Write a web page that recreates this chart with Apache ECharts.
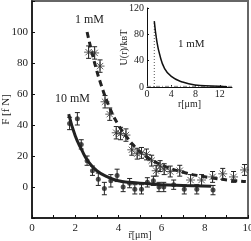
<!DOCTYPE html>
<html>
<head>
<meta charset="utf-8">
<script src="https://cdn.jsdelivr.net/npm/echarts@6/dist/echarts.min.js"></script>
<style>html,body{margin:0;padding:0;background:#fff}#c{width:251px;height:241px}</style>
</head>
<body>
<div id="c"></div>
<script>
// ---- data ----
// 10 mM measured points
const r10 = [1.74, 2.1, 2.28, 2.55, 2.8, 3.07, 3.35, 3.65, 3.94, 4.22, 4.52, 4.76, 5.07, 5.34, 5.62, 5.88, 6.1, 6.56, 7.05, 7.63, 8.38];
const f10 = [41, 44, 27.5, 17, 10.5, 5, -1, 4, 7.5, 0, 2.5, -1.5, -1.5, 3, 4, 0, 0, 1.5, -1.5, -1.5, -2];
const e10 = [4, 4, 3, 3, 3, 4, 4, 4, 4, 3, 3, 3, 3, 3, 3, 3, 3, 3, 3, 3, 3];
// 10 mM fitted curve
const fit10R = [1.7, 2.0, 2.3, 2.6, 3.0, 3.5, 4.0, 4.5, 5.0, 6.0, 7.0, 8.3];
const fit10F = [47, 33, 24, 16.5, 10.5, 6.5, 4, 3, 2.5, 1.5, 1, 0.5];
// 1 mM measured points
const r1 = [2.62, 2.9, 3.15, 3.38, 3.6, 3.9, 4.1, 4.35, 4.62, 4.87, 5.07, 5.3, 5.54, 5.75, 5.93, 6.12, 6.4, 6.84, 7.34, 7.85, 8.36, 8.83, 9.33, 9.84];
const f1 = [87, 86.5, 78, 55, 47, 35, 34.5, 33.5, 24, 21.5, 22, 21, 17, 10.5, 13.5, 11.5, 10, 10.5, 4.5, 4.5, 6.5, 8.5, 6.5, 11];
const e1 = [4, 4, 4, 4, 4, 4, 4, 4, 3.5, 3.5, 3.5, 3.5, 3.5, 3.5, 3.5, 3.5, 3.5, 3.5, 3.5, 3.5, 3.5, 3.5, 3.5, 3.5];
// 1 mM fitted curve (dashed)
const fit1R = [2.55, 2.9, 3.2, 3.6, 4.0, 4.4, 4.8, 5.3, 5.8, 6.3, 7.0, 7.7, 8.5, 9.2, 9.9];
const fit1F = [100, 80, 66, 51, 40, 32, 25.5, 19.5, 15.5, 12.5, 9.5, 7.3, 5.5, 4.3, 3.5];
// inset potential curve
const insetR = [1.2, 1.6, 2.1, 2.9, 4.0, 5.7, 7.9, 10.6, 13.2];
const insetU = [100, 71, 49, 28, 16, 8, 3, 1.5, 0.5];
const insetMarkR = [1.2, 1.2];
const insetMarkU = [0, 100];
const insetBaseR = [0, 14];
const insetBaseU = [1, 1];
// tick labels
const mainXTicks = [0, 2, 4, 6, 8, 10];
const mainYTicks = [0, 20, 40, 60, 80, 100];
const insetXTicks = [0, 4, 8, 12];
const insetYTicks = [0, 40, 80, 120];

const zip = (a, b) => a.map((v, i) => [v, b[i]]);
const zip3 = (a, b, c) => a.map((v, i) => [v, b[i], c[i]]);
const INK = '#222';
const FONT = 'Liberation Serif';

function errRender(params, api) {
  const x = api.value(0), y = api.value(1), e = api.value(2);
  const t = api.coord([x, y + e]), b = api.coord([x, y - e]);
  const cw = 2.5, st = {stroke: INK, lineWidth: 1};
  return {type: 'group', children: [
    {type: 'line', shape: {x1: t[0], y1: t[1], x2: b[0], y2: b[1]}, style: st},
    {type: 'line', shape: {x1: t[0] - cw, y1: t[1], x2: t[0] + cw, y2: t[1]}, style: st},
    {type: 'line', shape: {x1: b[0] - cw, y1: b[1], x2: b[0] + cw, y2: b[1]}, style: st}
  ]};
}

const chart = echarts.init(document.getElementById('c'), null, {renderer: 'canvas'});
const lbl = {fontFamily: FONT, fontSize: 11, color: INK};
chart.setOption({
  animation: false,
  backgroundColor: '#fff',
  grid: [
    {left: 32, top: 1, right: 3, bottom: 23, show: true, borderColor: '#666', borderWidth: 2, backgroundColor: 'transparent', containLabel: false, outerBoundsMode: 'none'},
    {left: 147, top: 8, right: 19, bottom: 154, containLabel: false, outerBoundsMode: 'none'}
  ],
  xAxis: [
    {gridIndex: 0, type: 'value', min: 0, max: 10, interval: 1,
     name: 'r\u0304[\u03bcm]', nameLocation: 'middle', nameGap: 12, nameMoveOverlap: false,
     nameTextStyle: {fontFamily: FONT, fontSize: 10, color: INK},
     axisLine: {onZero: false, lineStyle: {color: '#111', width: 1.5}},
     axisTick: {inside: true, length: 3, lineStyle: {color: '#111'}},
     axisLabel: Object.assign({margin: 5, formatter: v => mainXTicks.includes(v) ? String(v) : ''}, lbl),
     splitLine: {show: false}},
    {gridIndex: 1, type: 'value', min: 0, max: 14, interval: 4,
     name: 'r[\u03bcm]', nameLocation: 'middle', nameGap: 12, nameMoveOverlap: false,
     nameTextStyle: {fontFamily: FONT, fontSize: 10, color: INK},
     axisLine: {onZero: false, lineStyle: {color: '#111', width: 1}},
     axisTick: {inside: true, length: 2, lineStyle: {color: '#111'}},
     axisLabel: Object.assign({}, lbl, {fontSize: 10, margin: 2, showMaxLabel: false, formatter: v => insetXTicks.includes(v) ? String(v) : ''}),
     splitLine: {show: false}}
  ],
  yAxis: [
    {gridIndex: 0, type: 'value', min: -20, max: 120, interval: 20,
     name: 'F [f N]', nameLocation: 'middle', nameGap: 20, nameMoveOverlap: false,
     nameTextStyle: {fontFamily: FONT, fontSize: 11, color: INK},
     axisLine: {onZero: false, lineStyle: {color: '#111', width: 1.5}},
     axisTick: {inside: true, length: 3, lineStyle: {color: '#111'}},
     axisLabel: Object.assign({margin: 4, formatter: v => mainYTicks.includes(v) ? String(v) : ''}, lbl),
     splitLine: {show: false}},
    {gridIndex: 1, type: 'value', min: 0, max: 120, interval: 40,
     name: 'U(r)/k\u0299T', nameLocation: 'middle', nameGap: 18, nameMoveOverlap: false,
     nameTextStyle: {fontFamily: FONT, fontSize: 10, color: INK},
     axisLine: {onZero: false, lineStyle: {color: '#111', width: 1}},
     axisTick: {inside: true, length: 2, lineStyle: {color: '#111'}},
     axisLabel: Object.assign({}, lbl, {fontSize: 10, margin: 3, formatter: v => insetYTicks.includes(v) ? String(v) : ''}),
     splitLine: {show: false}}
  ],
  series: [
    {type: 'line', xAxisIndex: 0, yAxisIndex: 0, data: zip(fit1R, fit1F), smooth: true, symbol: 'none',
     lineStyle: {color: INK, width: 3, type: [6, 4]}, z: 3},
    {type: 'line', xAxisIndex: 0, yAxisIndex: 0, data: zip(fit10R, fit10F), smooth: true, symbol: 'none',
     lineStyle: {color: INK, width: 3}, z: 3},
    {type: 'custom', xAxisIndex: 0, yAxisIndex: 0, data: zip3(r1, f1, e1), renderItem: errRender, z: 4},
    {type: 'custom', xAxisIndex: 0, yAxisIndex: 0, data: zip3(r10, f10, e10), renderItem: errRender, z: 4},
    {type: 'scatter', xAxisIndex: 0, yAxisIndex: 0, data: zip(r1, f1),
     symbol: 'path://M5 0L5 10M0 5L10 5M1.5 1.5L8.5 8.5M8.5 1.5L1.5 8.5', symbolSize: 9,
     itemStyle: {color: 'none', borderColor: '#333', borderWidth: 1}, z: 5},
    {type: 'scatter', xAxisIndex: 0, yAxisIndex: 0, data: zip(r10, f10),
     symbol: 'circle', symbolSize: 5, itemStyle: {color: INK}, z: 5},
    {type: 'line', xAxisIndex: 1, yAxisIndex: 1, data: zip(insetBaseR, insetBaseU), symbol: 'none',
     lineStyle: {color: '#888', width: 1, type: [4, 2, 1, 2]}},
    {type: 'line', xAxisIndex: 1, yAxisIndex: 1, data: zip(insetMarkR, insetMarkU), symbol: 'none',
     lineStyle: {color: '#555', width: 1, type: [1, 2]}},
    {type: 'line', xAxisIndex: 1, yAxisIndex: 1, data: zip(insetR, insetU), smooth: true, symbol: 'none',
     lineStyle: {color: '#111', width: 1.5}}
  ],
  graphic: [
    {type: 'text', left: 75, top: 14, style: {text: '1 mM', font: '12px "Liberation Serif"', fill: INK}},
    {type: 'text', left: 55, top: 93, style: {text: '10 mM', font: '12px "Liberation Serif"', fill: INK}},
    {type: 'text', left: 178, top: 39, style: {text: '1 mM', font: '11px "Liberation Serif"', fill: INK}}
  ]
});
</script>
</body>
</html>
